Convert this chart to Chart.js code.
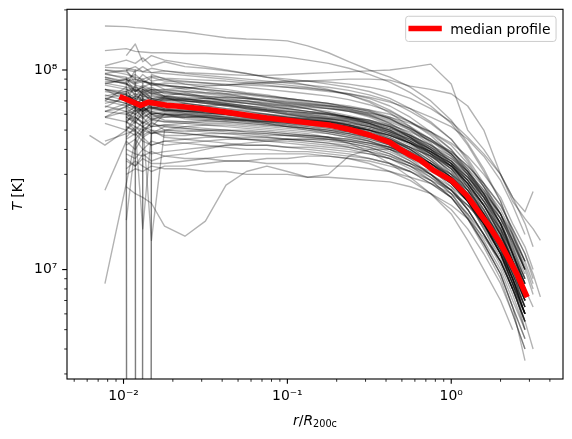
<!DOCTYPE html>
<html><head><meta charset="utf-8">
<script src="https://cdn.jsdelivr.net/npm/chart.js@4/dist/chart.umd.min.js"></script>
<style>html,body{margin:0;padding:0;background:#fff;}canvas{display:block}</style>
</head><body>
<canvas id="c" width="572" height="439"></canvas>
<script>
const _ = null;
const Z = 1e-60; // a bin where the profile is zero (falls off the log axis)

// radial bins, r / R200c
const radii = [0.0062, 0.0077, 0.0104, 0.0118, 0.0131, 0.0148, 0.0178, 0.0237, 0.0316, 0.0422, 0.0562, 0.075, 0.100, 0.133, 0.178, 0.237, 0.316, 0.422, 0.562, 0.75, 1.00, 1.26, 1.58, 2.00, 2.37, 2.82, 3.16, 3.50];

// individual temperature profiles, in units of 10^6 K
const profiles = [
 [_,166, 165,163,162,160,158,155,150,145,143,142,140,132,122,110,100,92,82,70,56,43,32,22,15,10, _,_],
 [_,125, 128,124,123,122,122,121,121,120,119,118,116,112,108,102,95,87,77,66,54,42,31,22,15.5,11, _,_],
 [_,96, 100,98,104,97,99,96,94,92,90,88,86,84,82,79,75,70,62,54,45,36,27,19,14,10, _,_],
 [_,100, 95,92,90,93,91,90,89,88,86,84,82,80,78,76,73,69,64,58,52,45,37,28,21,15, _,_],
 [_,92, 88,90,86,92,88,87,86,85,84,83,82,81,79,76,72,66,58,49,40,31,23,16,11,8, _,_],
 [_,_, 80,78,82,79,80,81,83,84,86,87,88,88,87,85,82,78,72,64,55,46,38,30,23,17, 13,_],
 [_,105, 112,108,115,105,110,104,102,99,96,92,90,88,85,82,78,72,64,55,45,35,26,18,12,8, _,_],
 [_,_, 100,104,98,102,99,97,96,95,94,94,95,96,97,98,99,100,103,107,85,50,40,30,22,18, 16,14],
 [_,_, 90,85,88,84,86,85,84,84,85,86,87,88,89,90,90,89,83,80,76,66,50,30,23,19.5, 24.6,_],
 [_,95, 92,86,90,84,83,82,80,78,76,74,72,70,68,65,62,57,50,42,35,28,21,15,11,7.5, _,_],
 [_,74, 78,82,76,80,79,78,77,76,75,73,71,69,67,64,60,54,47,40,33,26,19,13,9,6.5, _,_],
 [_,90, 85,80,78,82,76,75,74,73,72,70,69,68,66,64,61,57,51,45,38,31,24,17,12.5,9, _,_],
 [_,_, 70,74,72,69,73,71,72,73,72,71,70,68,66,63,59,54,48,41,34,27,20,14,10,7, _,_],
 [_,100, 98,90,88,85,84,82,79,76,73,70,68,66,64,62,59,55,50,44,38,32,26,20,15,11, _,_],
 [_,80, 75,70,78,72,74,73,72,71,70,69,68,67,66,65,63,60,55,49,42,34,26,19,13,9, _,_],
 [_,86, 82,79,77,80,78,76,74,72,70,68,66,64,62,59,56,52,46,39,32,25,18,12.5,9,6, _,_],
 [_,_, 66,68,71,69,70,69,70,70,69,68,67,66,64,62,60,56,51,45,39,33,27,21,16,12, 9.5,7.3],
 [_,85, 90,95,88,86,84,80,77,75,73,71,69,67,65,62,58,53,46,38,30,23,17,12,8.5,5.5, _,_],
 [_,_, 72,76,70,74,72,71,70,69,68,67,66,65,64,63,61,58,54,49,43,37,30,23,17,13, 10,_],
 [_,75, 70,66,72,65,66,65,63,61,59,57,56,55,54,52,49,45,40,34,28,22,16,11,8,5.5, _,_],
 [_,58, 62,65,60,64,63,62,61,60,59,58,57,56,55,53,51,47,42,36,30,24,18,13,9.5,7, _,_],
 [_,80, 78,72,70,68,66,64,62,60,58,56,54,52,50,48,45,42,37,32,27,22,17,12.5,9,6.5, _,_],
 [_,_, 58,55,60,57,58,58,59,59,58,57,56,55,54,52,50,47,43,38,33,28,22,17,13,9.5, _,_],
 [_,72, 68,64,62,66,63,62,61,60,59,58,57,56,55,54,52,49,45,40,35,29,23,17,12,8, _,_],
 [_,_, 55,60,57,62,59,58,58,57,56,55,54,53,52,50,47,43,38,32,26,20,15,10.5,7.5,5, _,_],
 [_,78, 75,70,68,65,64,63,62,61,60,59,58,57,55,52,48,44,39,34,29,25,20,15,11.5,8.5, _,_],
 [_,_, 64,60,65,61,60,59,58,57,56,55,54,53,51,49,46,42,36,30,24,18.5,13.5,9.5,6.5,3.5, _,_],
 [_,_, 60,63,58,61,60,60,59,58,57,56,55,54,53,52,50,47,43,39,34,29,24,19,15,11, 8.5,_],
 [_,70, 66,62,64,60,61,60,59,58,57,56,55,54,52,50,47,43,38,33,28,23,17.5,12.5,9,6, _,_],
 [_,58, 55,52,50,54,52,51,50,50,49,49,48,47,46,45,43,40,36,32,27,22,17,12,9,6.5, _,_],
 [_,44, 48,50,46,49,47,47,48,48,48,47,47,46,45,44,42,39,35,30,25,20,15,11,8,5.5, _,_],
 [_,62, 60,55,52,50,49,48,47,46,45,44,43,42,41,40,38,36,33,29,25,21,17,13,10,7.5, _,_],
 [_,_, 42,45,40,44,42,43,44,45,45,45,45,44,43,42,40,37,33,28,23,18,13.5,9.5,6.5,4.5, _,_],
 [_,54, 50,47,52,48,49,48,47,46,45,44,44,43,42,41,39,37,34,31,27,23,19,15,11,8, 6.5,_],
 [_,_, 38,36,40,38,39,40,41,42,42,42,41,40,39,38,36,34,31,27,23,19,15,11,8,5.5, _,_],
 [_,_, 45,48,44,42,44,43,42,41,40,40,39,39,38,37,36,34,31,27,23,18,13,9,6,4, _,_],
 [_,_, 52,49,47,50,46,45,44,43,42,42,41,41,40,39,38,36,33,30,26,22,18,14,10.5,7.5, _,_],
 [_,_, 35,33,36,34,34,35,36,37,38,38,38,38,37,36,35,33,31,28,25,21,17,13,10,7, _,_],
 [_,_, 32,35,33,31,33,33,34,35,35,36,36,37,37,36,34,31,28,24,20,16,12,8.5,6,4, _,_],
 [_,_, 40,38,37,39,37,36,36,35,35,34,34,34,33,33,32,31,29,27,24,21,18,14,11,8, _,_],
 [_,_, 30,32,31,33,32,32,31,31,30,30,30,29,29,28.5,28,27.5,26,24,21,18,14.5,11,8,5.5, 4,_],
 [_,84, 80,76,74,77,73,71,69,67,65,63,61,59,57,55,52,48,43,37,31,25,19,13.5,9.5,6.5, _,_],
 [_,62, 65,70,67,64,66,65,64,63,62,60,58,57,55,53,50,46,41,35,29,23,17,12,8.5,6, _,_],
 [_,_, 58,62,66,60,62,61,60,60,59,58,57,56,55,53,51,48,44,39,34,28,22,16.5,12,8.5, _,_],
 [_,90, 85,82,80,78,77,75,73,70,68,66,64,62,60,58,55,51,46,40,34,28,22,16,11.5,8, _,_],
 [_,_, 74,72,76,70,71,70,69,67,65,63,62,61,60,58,56,53,49,44,39,33,27,21,16,12, 9,_],
 [_,72, 68,65,63,65,62,61,60,58,56,54,52,50,48,46,44,41,37,32,27,22,17,12.5,9,6, _,_],
 [_,96, 90,84,82,86,80,78,76,74,72,70,67,64,61,58,54,49,43,36,29,23,17,12,8,5.5, _,_],
 [_,_, 56,58,54,57,55,55,54,54,53,52,51,50,49,48,46,44,41,37,33,28,23,18,14,10, _,_],
 [_,66, 62,60,64,58,60,59,58,57,56,55,53,51,49,47,45,42,38,33,28,23,18,13,9,6, _,_],
 [_,72, 76,80,73,75,72,70,68,66,64,62,60,58,57,55,53,50,46,41,36,31,25,19,14,10, _,_],
 [_,_, 70,67,65,62,63,62,61,60,59,58,57,56,54,52,49,45,40,34,28,22.5,17,12,8.5,5, _,_],
 [_,_, 64,66,62,65,63,62,62,61,61,60,59,58,57,56,54,51,47,42,37,31,25,19,14,10.5, 8,_],
 [_,_, 52,50,55,52,53,52,51,50,50,49,48,47,46,44,42,40,37,34,30,26,21,16,12,8.5, _,_],
 [_,88, 86,78,82,76,74,72,70,68,66,64,62,60,58,56,53,49,45,40,35,30,24.5,19,14.5,11, _,_],
 [_,68, 72,70,68,71,69,68,66,64,62,60,58,56,54,52,50,47,43,38,33,27,21,15,10.5,7, _,_],
 [_,70, 82,64,76,70,73,68,66,67,64,63,61,60,58,57,54,50,44,38,32,26,20,14,10,7, _,_],
 [_,86, 90,78,84,80,74,77,73,70,70,67,65,64,61,58,55,52,46,40,33,27,21,15,11,7.5, _,_],
 [_,58, 66,72,60,68,64,62,63,60,58,57,56,54,54,51,48,44,39,33,28,22,16.5,12,8.5,6, _,_],
 [_,_, 54,64,58,52,60,57,56,57,55,54,52,51,50,48,46,43,39,34,29,24,19,14.5,11,8, _,_],
 [_,_, 100,86,95,88,90,85,82,80,77,75,72,70,68,66,63,58,52,45,38,31,24,17,12.5,9, _,_],
 [_,65, 74,68,80,72,70,72,69,68,66,65,64,62,61,58,56,52,47,41,35,29,23,17,12,8.5, _,_],
 [_,_, 62,56,66,60,58,60,58,56,55,54,53,52,51,49,47,45,41,37,32,27,21,16,12,9, _,_],
 [_,80, 76,70,64,72,66,68,66,64,63,62,60,59,57,55,52,48,43,37,31,24,18,13,9,6, _,_],
 [_,80, 70,84,75,78,74,72,70,68,66,64,63,61,60,58,55,52,47,42,36,30,24,18,13.5,10, _,_],
 [_,_, 50,58,54,60,56,55,56,55,54,53,52,51,50,49,47,44,40,35,30,25,19.5,14.5,10.5,7, _,_],
 [_,62, 68,74,70,66,72,70,68,67,65,63,62,61,59,57,54,50,45,39,33,27,21,15.5,11,7.5, _,_],
 [_,_, 60,66,62,68,64,63,62,61,60,59,58,57,56,54,52,49,44,39,33,27,21,15,11,8, _,_],
 [_,92, 86,74,80,76,78,75,72,70,68,66,64,62,60,57,54,50,44,38,32,25,19,13.5,9.5,6.5, _,_],
 [_,_, 46,52,48,55,50,49,50,49,48,48,47,47,46,45,43,41,38,34,29,24,19,14,10,7, _,_],
 [_,_, 58,54,62,56,60,58,57,56,56,55,55,54,53,52,50,47,43,39,34,29,23.5,18,13.5,10, 7.5,_],
 [47,42, 50,55,52,56,55,54,53,52,51,50,49,48,46,43,39,34,29,24,19,14,10,7,5,_, _,_],
 [_,8.5, 27,45,50,52,53,54,55,55,54,53,52,51,49,47,44,40,35,30,25,20,15,11,8,6, _,_],
 [_,25, 44,40,46,42,44,45,46,46,46,46,45,45,44,43,41,38,34,30,25,20,15,11,8,_, _,_],
 [_,103, 102,100,98,97,96,94,92,90,88,86,84,82,79,75,70,63,55,47,38,30,22,15.5,11,8, _,_],
 [_,_, 118,135,110,118,112,108,104,100,96,92,88,84,80,75,69,61,52,43,34,26,19,13,9.5,7, _,_],
 [_,_, 17.7,42,50,48,52,51,50,50,49,48,47,46,45,43,41,38,34,29,24,19,14,10,7,5, _,_],
 [_,_, 36,33,38,35,37,38,40,42,43,44,45,45,45,44,43,41,38,34,29,24,18,13,9.5,6.5, _,_],
 [_,_, 26,24,23,21.5,16.5,14.7,17.5,26.5,31,33,31,29,30,37,40,40,37,32,27,22,17,12,9,6, _,_],
 [_,_, 78,Z,74,72,71,70,68,66,64,62,60,58,56,53,50,45,40,34,28,22,16,11.5,8,_, _,_],
 [_,_, 92,Z,88,86,84,82,80,78,76,74,72,70,68,65,62,57,51,44,37,30,23,17,12,8.5, _,_],
 [_,_, 70,66,Z,64,63,62,61,60,59,58,57,56,55,53,50,46,41,35,29,23,17,12,8.5,6, _,_],
 [_,_, 84,100,Z,95,90,88,86,84,82,80,78,76,74,71,67,62,55,48,40,32,24,17,12,8.5, _,_],
 [_,_, 60,58,55,14,50,52,53,53,52,51,50,49,48,46,44,41,37,32,27,22,16.5,12,8.5,6, _,_],
 [_,_, 55,50,16,48,50,50,49,48,47,46,45,44,43,41,39,36,32,28,23,18,13.5,9.5,6.5,4.5, _,_]
];

// median profile
const medianRadii = [0.0098, 0.0127, 0.0142, 0.0183, 0.021, 0.0293, 0.0422, 0.057, 0.075, 0.100, 0.138, 0.183, 0.237, 0.32, 0.42, 0.48, 0.56, 0.65, 0.78, 1.00, 1.25, 1.65, 2.00, 2.51, 2.86];
const medianT     = [72.7, 66.5, 69.0, 66.5, 66.0, 64.1, 61.5, 59.3, 57.5, 56.0, 54.2, 52.8, 50.5, 47.1, 43.5, 40.4, 37.5, 35.3, 31.4, 28.0, 23.4, 17.1, 13.5, 9.55, 7.5];
const medianLabel = 'median profile';

// axes
const xRange = [0.004519, 4.81];
const yRange = [2.83e6, 2.014e8];
const xMajorTicks = [0.01, 0.1, 1];
const xTickLabels = ['10\u207B\u00B2', '10\u207B\u00B9', '10\u2070'];
const xMinorTicks = [0.005,0.006,0.007,0.008,0.009,0.02,0.03,0.04,0.05,0.06,0.07,0.08,0.09,0.2,0.3,0.4,0.5,0.6,0.7,0.8,0.9,2,3,4];
const yMajorTicks = [1e7, 1e8];
const yTickLabels = ['10\u2077', '10\u2078'];
const yMinorTicks = [3e6,4e6,5e6,6e6,7e6,8e6,9e6,2e7,3e7,4e7,5e7,6e7,7e7,8e7,9e7,2e8];

const FONT = '"DejaVu Sans", "Liberation Sans", sans-serif';
const FS = 13.9;

const datasets = [{
  label: medianLabel,
  data: medianRadii.map((r, i) => ({x: r, y: medianT[i] * 1e6})),
  borderColor: '#ff0000', borderWidth: 5.56, borderJoinStyle: 'round', borderCapStyle: 'square',
  pointRadius: 0, fill: false, tension: 0, order: 0
}].concat(profiles.map((p, k) => ({
  label: 'halo ' + (k + 1),
  data: radii.map((r, i) => p[i] == null ? null : {x: r, y: p[i] * 1e6}).filter(d => d !== null),
  borderColor: 'rgba(0,0,0,0.3)', borderWidth: 1.39, borderJoinStyle: 'round',
  pointRadius: 0, fill: false, tension: 0, order: 1
})));

const decor = {
  id: 'decor',
  afterDatasetsDraw(chart) {
    const {ctx, chartArea: a, scales: {x, y}} = chart;
    ctx.save();
    ctx.strokeStyle = '#000';
    const seg = (x1, y1, x2, y2, w) => { ctx.lineWidth = w; ctx.beginPath(); ctx.moveTo(x1, y1); ctx.lineTo(x2, y2); ctx.stroke(); };
    xMajorTicks.forEach(v => { const p = x.getPixelForValue(v); seg(p, a.bottom, p, a.bottom + 4.86, 1.11); });
    xMinorTicks.forEach(v => { const p = x.getPixelForValue(v); seg(p, a.bottom, p, a.bottom + 2.78, 0.83); });
    yMajorTicks.forEach(v => { const p = y.getPixelForValue(v); seg(a.left, p, a.left - 4.86, p, 1.11); });
    yMinorTicks.forEach(v => { const p = y.getPixelForValue(v); if (p >= a.top - 0.5) seg(a.left, p, a.left - 2.78, p, 0.83); });
    ctx.lineWidth = 1.11;
    ctx.strokeRect(a.left, a.top, a.right - a.left, a.bottom - a.top);

    // legend
    ctx.font = FS + 'px ' + FONT;
    const tw = ctx.measureText(medianLabel).width;
    const pad = 5.56, hl = 27.8, hp = 11.1;
    const bw = pad + hl + hp + tw + pad, bh = 25.2;
    const bx = a.right - 6.95 - bw, by = a.top + 6.95;
    ctx.beginPath();
    ctx.roundRect(bx, by, bw, bh, 2.8);
    ctx.fillStyle = 'rgba(255,255,255,0.8)'; ctx.fill();
    ctx.strokeStyle = '#cccccc'; ctx.lineWidth = 1; ctx.stroke();
    ctx.strokeStyle = '#ff0000'; ctx.lineWidth = 5.56; ctx.lineCap = 'square';
    ctx.beginPath(); ctx.moveTo(bx + pad, by + 12.3); ctx.lineTo(bx + pad + hl, by + 12.3); ctx.stroke();
    ctx.lineCap = 'butt';
    ctx.fillStyle = '#000'; ctx.textBaseline = 'alphabetic'; ctx.textAlign = 'left';
    ctx.fillText(medianLabel, bx + pad + hl + hp, by + 17.3);

    // x axis title: r / R_200c
    const parts = [['r', 'italic ' + FS + 'px ' + FONT, 0], ['/', FS + 'px ' + FONT, 0], ['R', 'italic ' + FS + 'px ' + FONT, 0], ['200c', (FS * 0.7) + 'px ' + FONT, 2.2]];
    let tot = 0;
    parts.forEach(pt => { ctx.font = pt[1]; pt.push(ctx.measureText(pt[0]).width); tot += pt[3]; });
    let cx = (a.left + a.right) / 2 - tot / 2;
    const xb = 424.8;
    parts.forEach(pt => { ctx.font = pt[1]; ctx.fillText(pt[0], cx, xb + pt[2]); cx += pt[3]; });

    // y axis title: T [K]
    ctx.translate(21.8, (a.top + a.bottom) / 2);
    ctx.rotate(-Math.PI / 2);
    const yp = [['T', 'italic ' + FS + 'px ' + FONT], [' [K]', FS + 'px ' + FONT]];
    let ytot = 0;
    yp.forEach(pt => { ctx.font = pt[1]; pt.push(ctx.measureText(pt[0]).width); ytot += pt[2]; });
    let cy = -ytot / 2;
    yp.forEach(pt => { ctx.font = pt[1]; ctx.fillText(pt[0], cy, 0); cy += pt[2]; });
    ctx.restore();
  }
};

new Chart(document.getElementById('c'), {
  type: 'line',
  data: {datasets},
  plugins: [decor],
  options: {
    responsive: false, animation: false, devicePixelRatio: 1,
    layout: {padding: {top: 9.3, right: 9, left: 0, bottom: 0}},
    plugins: {legend: {display: false}, tooltip: {enabled: false}},
    events: [],
    scales: {
      x: {
        type: 'logarithmic', position: 'bottom', min: xRange[0], max: xRange[1],
        grid: {display: false, drawTicks: false}, border: {display: false},
        ticks: {autoSkip: false, maxRotation: 0, minRotation: 0, padding: 9.2, color: '#000',
          font: {family: FONT, size: FS},
          callback: (v) => { const i = xMajorTicks.indexOf(v); return i >= 0 ? xTickLabels[i] : ''; }},
        afterBuildTicks: (s) => { s.ticks = xMajorTicks.map(v => ({value: v})); },
        afterFit: (s) => { s.height = 60; s.paddingLeft = 0; s.paddingRight = 0; }
      },
      y: {
        type: 'logarithmic', position: 'left', min: yRange[0], max: yRange[1],
        grid: {display: false, drawTicks: false}, border: {display: false},
        ticks: {autoSkip: false, padding: 9.7, color: '#000',
          font: {family: FONT, size: FS},
          callback: (v) => { const i = yMajorTicks.indexOf(v); return i >= 0 ? yTickLabels[i] : ''; }},
        afterBuildTicks: (s) => { s.ticks = yMajorTicks.map(v => ({value: v})); },
        afterFit: (s) => { s.width = 67; s.paddingTop = 0; s.paddingBottom = 0; }
      }
    }
  }
});
</script>
</body></html>
